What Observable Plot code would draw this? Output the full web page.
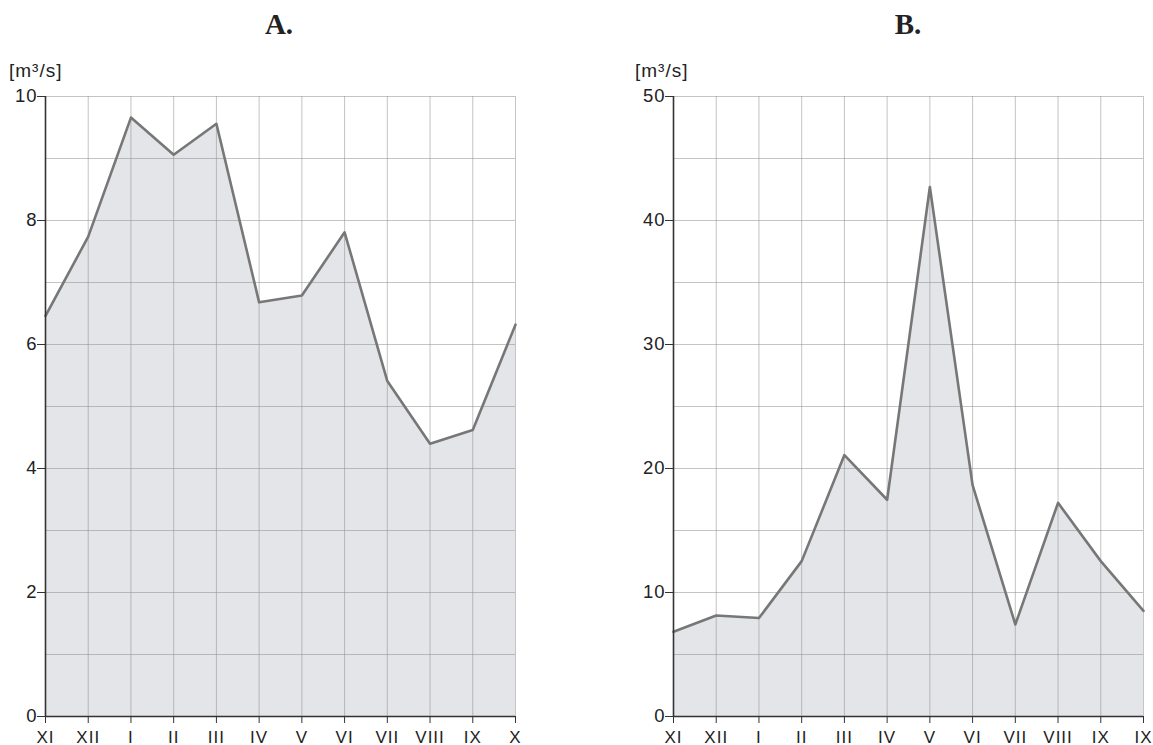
<!DOCTYPE html>
<html>
<head>
<meta charset="utf-8">
<script src="https://cdn.jsdelivr.net/npm/d3@7"></script>
<script src="https://cdn.jsdelivr.net/npm/@observablehq/plot@0.6"></script>
<style>
  html, body { margin: 0; padding: 0; background: #fff; overflow: hidden; }
  #wrap { position: relative; width: 1153px; height: 745px; }
  .title { position: absolute; font-family: "Liberation Serif", "Times New Roman", serif; font-weight: bold; font-size: 29px; line-height: 29px; color: #222; text-align: center; width: 200px; }
  .unit { position: absolute; font-family: "Liberation Sans", Arial, sans-serif; font-size: 19px; line-height: 19px; color: #222; letter-spacing: 1px; }
  .chart { position: absolute; }
  .chart svg text { letter-spacing: 1px; }
</style>
</head>
<body>
<div id="wrap">
  <div class="title" style="left:179px; top:10px;">A.</div>
  <div class="title" style="left:808px; top:10px;">B.</div>
  <div class="unit" style="left:9px; top:61px;">[m³/s]</div>
  <div class="unit" style="left:635px; top:61px;">[m³/s]</div>
  <div class="chart" id="cA" style="left:0px; top:60px;"></div>
  <div class="chart" id="cB" style="left:628px; top:60px;"></div>
</div>
<script>
// Month labels (x axis)
const monthsA = ["XI","XII","I","II","III","IV","V","VI","VII","VIII","IX","X"];
const monthsB = ["XI","XII","I","II","III","IV","V","VI","VII","VIII","IX","IX"];
// Discharge values [m³/s]
const flowA = [6.46, 7.74, 9.66, 9.06, 9.56, 6.68, 6.79, 7.81, 5.41, 4.40, 4.62, 6.32];
const flowB = [6.83, 8.15, 7.94, 12.53, 21.08, 17.48, 42.7, 18.66, 7.42, 17.23, 12.53, 8.52];
// Y tick labels and grid lines
const yTicksA = [0, 2, 4, 6, 8, 10];
const yGridA = [1, 2, 3, 4, 5, 6, 7, 8, 9, 10];
const yTicksB = [0, 10, 20, 30, 40, 50];
const yGridB = [5, 10, 15, 20, 25, 30, 35, 40, 45, 50];

function chart(values, labels, yMax, yTicks, yGrid, width, marginRight) {
  const data = values.map((v, i) => ({i, v}));
  const idx = labels.map((_, i) => i);
  return Plot.plot({
    width, height: 686,
    marginLeft: 45, marginRight, marginTop: 36, marginBottom: 30,
    style: {fontFamily: "'Liberation Sans', Arial, sans-serif", fontSize: "18.5px", color: "#222", background: "transparent", overflow: "visible"},
    x: {domain: [0, labels.length - 1]},
    y: {domain: [0, yMax]},
    marks: [
      Plot.areaY(data, {x: "i", y: "v", fill: "#e4e5e8"}),
      Plot.ruleX(idx, {stroke: "#8a8a8a", strokeOpacity: 0.5, strokeWidth: 1}),
      Plot.ruleY(yGrid, {stroke: "#8a8a8a", strokeOpacity: 0.5, strokeWidth: 1}),
      Plot.lineY(data, {x: "i", y: "v", stroke: "#777", strokeWidth: 2.6}),
      Plot.axisY({ticks: yTicks, tickSize: 8, tickPadding: 0, label: null, tickFormat: d => String(d), stroke: "#333"}),
      Plot.axisX({ticks: idx, tickSize: 7, tickPadding: 7, label: null, tickFormat: i => labels[i], fontSize: 17, stroke: "#333"}),
      Plot.ruleX([0], {stroke: "#333", strokeWidth: 1.6}),
      Plot.ruleY([0], {stroke: "#333", strokeWidth: 1.6})
    ]
  });
}

document.getElementById("cA").append(chart(flowA, monthsA, 10, yTicksA, yGridA, 560, 45));
document.getElementById("cB").append(chart(flowB, monthsB, 50, yTicksB, yGridB, 525, 10));
</script>
</body>
</html>
